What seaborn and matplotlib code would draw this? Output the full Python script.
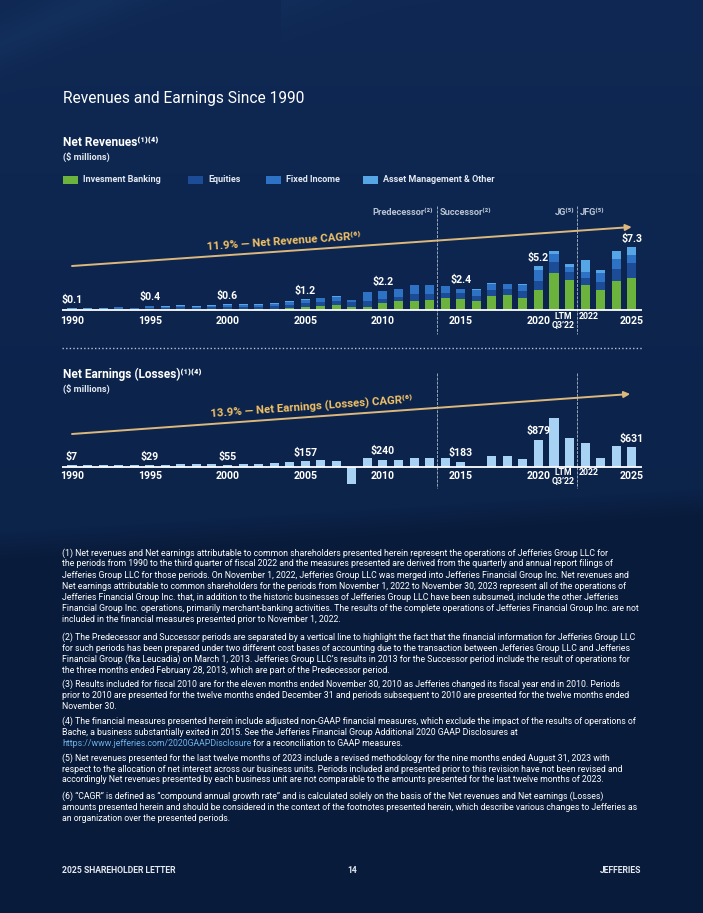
import numpy as np
import matplotlib
matplotlib.use("Agg")
import matplotlib.pyplot as plt
from matplotlib.patches import Rectangle
from matplotlib.lines import Line2D
import seaborn as sns

# ---------------- data ----------------
categories = [str(y) for y in range(1990, 2022)] + ["LTM Q3'22", "2022", "2023", "2024", "2025"]

# Net revenues by business ($ billions)
inv_banking = [0.00, 0.00, 0.00, 0.02, 0.02, 0.08, 0.05, 0.08, 0.05, 0.06, 0.10, 0.08,
               0.08, 0.10, 0.20, 0.40, 0.47, 0.59, 0.40, 0.40, 0.85, 1.06, 1.06, 1.18,
               1.37, 1.30, 1.06, 1.70, 1.76, 1.45, 2.35, 4.30, 3.53, 2.94, 2.35, 3.40, 3.80]
equities = [0.07, 0.08, 0.07, 0.13, 0.09, 0.18, 0.18, 0.22, 0.20, 0.24, 0.28, 0.30,
            0.30, 0.35, 0.40, 0.40, 0.45, 0.50, 0.50, 0.60, 0.50, 0.50, 0.78, 0.67,
            0.63, 0.67, 0.63, 0.67, 0.70, 0.78, 1.06, 1.30, 0.90, 0.86, 0.90, 1.40, 1.70]
fixed_income = [0.09, 0.09, 0.08, 0.15, 0.09, 0.16, 0.16, 0.20, 0.15, 0.20, 0.22, 0.25,
                0.25, 0.30, 0.38, 0.38, 0.45, 0.45, 0.22, 1.10, 0.86, 0.86, 1.10, 1.10,
                0.78, 0.47, 0.67, 0.67, 0.55, 0.70, 1.30, 0.94, 0.67, 0.70, 1.10, 1.25, 1.00]
asset_mgmt = [0.06, 0.06, 0.05, 0.07, 0.05, 0.08, 0.08, 0.10, 0.07, 0.10, 0.07, 0.07,
              0.05, 0.05, 0.10, 0.10, 0.10, 0.10, 0.10, 0.05, 0.05, 0.05, 0.05, 0.03,
              0.08, 0.08, 0.08, 0.10, 0.10, 0.15, 0.47, 0.40, 0.27, 1.37, 0.30, 0.86, 0.86]

# Net earnings (losses) ($ millions, bar heights)
net_earnings = [65, 65, 65, 65, 65, 65, 65, 95, 95, 95, 75, 95,
                95, 125, 160, 200, 230, 200, -530, 300, 240, 230, 300, 300,
                300, 183, 15, 355, 355, 260, 879, 1560, 940, 781, 300, 669, 631]

label_idx = [0, 5, 10, 15, 20, 25, 30, 36]
rev_labels = ["$0.1", "$0.4", "$0.6", "$1.2", "$2.2", "$2.4", "$5.2", "$7.3"]
earn_labels = ["$7", "$29", "$55", "$157", "$240", "$183", "$879", "$631"]
year_ticks = ["1990", "1995", "2000", "2005", "2010", "2015", "2020", "2025"]

legend_names = ["Invesment Banking", "Equities", "Fixed Income", "Asset Management & Other"]

footnotes = [
    ["(1) Net revenues and Net earnings attributable to common shareholders presented herein represent the operations of Jefferies Group LLC for",
     "the periods from 1990 to the third quarter of fiscal 2022 and the measures presented are derived from the quarterly and annual report filings of",
     "Jefferies Group LLC for those periods. On November 1, 2022, Jefferies Group LLC was merged into Jefferies Financial Group Inc. Net revenues and",
     "Net earnings attributable to common shareholders for the periods from November 1, 2022 to November 30, 2023 represent all of the operations of",
     "Jefferies Financial Group Inc. that, in addition to the historic businesses of Jefferies Group LLC have been subsumed, include the other Jefferies",
     "Financial Group Inc. operations, primarily merchant-banking activities. The results of the complete operations of Jefferies Financial Group Inc. are not",
     "included in the financial measures presented prior to November 1, 2022."],
    ["(2) The Predecessor and Successor periods are separated by a vertical line to highlight the fact that the financial information for Jefferies Group LLC",
     "for such periods has been prepared under two different cost bases of accounting due to the transaction between Jefferies Group LLC and Jefferies",
     "Financial Group (fka Leucadia) on March 1, 2013. Jefferies Group LLC\u2019s results in 2013 for the Successor period include the result of operations for",
     "the three months ended February 28, 2013, which are part of the Predecessor period."],
    ["(3) Results included for fiscal 2010 are for the eleven months ended November 30, 2010 as Jefferies changed its fiscal year end in 2010. Periods",
     "prior to 2010 are presented for the twelve months ended December 31 and periods subsequent to 2010 are presented for the twelve months ended",
     "November 30."],
    ["(4) The financial measures presented herein include adjusted non-GAAP financial measures, which exclude the impact of the results of operations of",
     "Bache, a business substantially exited in 2015. See the Jefferies Financial Group Additional 2020 GAAP Disclosures at",
     None],
    ["(5) Net revenues presented for the last twelve months of 2023 include a revised methodology for the nine months ended August 31, 2023 with",
     "respect to the allocation of net interest across our business units. Periods included and presented prior to this revision have not been revised and",
     "accordingly Net revenues presented by each business unit are not comparable to the amounts presented for the last twelve months of 2023."],
    ["(6) \u201cCAGR\u201d is defined as \u201ccompound annual growth rate\u201d and is calculated solely on the basis of the Net revenues and Net earnings (Losses)",
     "amounts presented herein and should be considered in the context of the footnotes presented herein, which describe various changes to Jefferies as",
     "an organization over the presented periods."],
]
link_text = "https://www.jefferies.com/2020GAAPDisclosure"
link_rest = " for a reconciliation to GAAP measures."

# ---------------- style ----------------
sns.set_theme(style="white")
FAM = ["Roboto", "DejaVu Sans"]
FN_FAM = ["Liberation Sans Narrow", "Roboto", "DejaVu Sans"]
plt.rcParams["font.family"] = FAM

C_IB = "#6cb33e"
C_EQ = "#1d4c97"
C_FI = "#2e72c6"
C_AM = "#56a6e6"
C_EARN = "#a8d2f4"
GOLD = "#dcb87c"
GOLD_TXT = "#f2c266"
WHITE = "#ffffff"
SOFT = "#e3e8f0"
GREYLBL = "#b9c3d3"
VLINE = "#98a6bb"

W, H = 703, 913
fig = plt.figure(figsize=(W / 100, H / 100), dpi=100)


def fx(px):
    return px / W


def fy(py):
    return 1 - py / H


# ---------------- background ----------------
bg = fig.add_axes([0, 0, 1, 1], zorder=-10)
yy, xx = np.mgrid[0:H, 0:W].astype(float)
c_top = np.array([15, 41, 84], float)
c_mid = np.array([12, 35, 74], float)
c_bot = np.array([9, 27, 58], float)
t = np.clip(yy / 520.0, 0, 1)[..., None]
img = c_top * (1 - t) + c_mid * t
boundary = 548 - 45 * xx / W
s = np.clip((yy - boundary) / 30 + 0.5, 0, 1)[..., None]
img = img * (1 - s) + c_bot * s
d = xx * 0.45 + yy
glow = 7 * np.exp(-((d - 45) / 25) ** 2) + 5 * np.exp(-((d - 120) / 35) ** 2) * (xx > 280)
img = img + glow[..., None] * np.array([0.55, 0.8, 1.0])
bg.imshow(np.clip(img, 0, 255).astype(np.uint8), aspect="auto", extent=[0, 1, 0, 1])
bg.set_xlim(0, 1)
bg.set_ylim(0, 1)
bg.axis("off")

# ---------------- headings ----------------
fig.text(fx(63), fy(99), "Revenues and Earnings Since 1990", fontsize=11.2, color=WHITE,
         va="center", ha="left")
fig.text(fx(63), fy(142), "Net Revenues\u207d\u00b9\u207e\u207d\u2074\u207e", fontsize=8.6, color=WHITE,
         weight="bold", va="center")
fig.text(fx(63), fy(157), "($ millions)", fontsize=6.6, color=SOFT, weight="bold", va="center")
fig.text(fx(63), fy(374), "Net Earnings (Losses)\u207d\u00b9\u207e\u207d\u2074\u207e", fontsize=8.6,
         color=WHITE, weight="bold", va="center")
fig.text(fx(63), fy(389), "($ millions)", fontsize=6.6, color=SOFT, weight="bold", va="center")

# legend
leg_x = [63, 188, 266, 363]
leg_c = [C_IB, C_EQ, C_FI, C_AM]
for lx, lc, name in zip(leg_x, leg_c, legend_names):
    fig.add_artist(Rectangle((fx(lx), fy(184)), 15 / W, 8 / H, transform=fig.transFigure,
                             facecolor=lc, edgecolor="none"))
    fig.text(fx(lx + 20), fy(180), name, fontsize=6.5, color=SOFT, weight="bold", va="center")

# ---------------- revenue chart ----------------
R_SCALE = 8.5      # px per $B
R_BASE = 310.0
ax1 = fig.add_axes([fx(62), fy(340), fx(642) - fx(62), fy(200) - fy(340)])
ax1.set_facecolor("none")

ib = np.array(inv_banking)
eq = np.array(equities)
fi = np.array(fixed_income)
am = np.array(asset_mgmt)
totals = ib + eq + fi + am
layers = [(totals, C_AM), (ib + eq + fi, C_FI), (ib + eq, C_EQ), (ib, C_IB)]
for vals, col in layers:
    sns.barplot(x=categories, y=vals, order=categories, color=col, saturation=1,
                width=0.58, linewidth=0, errorbar=None, ax=ax1)
ax1.set_xlim(-0.643, 36.66)
ax1.set_ylim(-(340 - R_BASE) / R_SCALE, (R_BASE - 200) / R_SCALE)
ax1.axis("off")
ax1.axhline(0, color=WHITE, lw=1.3, zorder=5)


def y1(py):
    return (R_BASE - py) / R_SCALE


# ---------------- earnings chart ----------------
E_SCALE = 0.0315   # px per $M
E_BASE = 467.3
ax2 = fig.add_axes([fx(62), fy(495), fx(642) - fx(62), fy(370) - fy(495)])
ax2.set_facecolor("none")
earn = np.array(net_earnings, float)
sns.barplot(x=categories, y=earn, order=categories, color=C_EARN, saturation=1,
            width=0.58, linewidth=0, errorbar=None, ax=ax2)
ax2.set_xlim(-0.643, 36.66)
ax2.set_ylim(-(495 - E_BASE) / E_SCALE, (E_BASE - 370) / E_SCALE)
ax2.axis("off")
ax2.axhline(0, color=WHITE, lw=1.3, zorder=5)


def y2(py):
    return (E_BASE - py) / E_SCALE


n = len(categories)
ltm_i = categories.index("LTM Q3'22")
y22_i = n - 4

for ax, yconv, ytick, ytop, ybot, vals, labels in [
        (ax1, y1, 320.5, 206, 334, totals, rev_labels),
        (ax2, y2, 476, 373, 488, earn, earn_labels)]:
    for i, lbl in zip(label_idx, year_ticks):
        ax.text(i, yconv(ytick), lbl, ha="center", va="center", fontsize=7.6,
                weight="bold", color=WHITE, clip_on=False)
    ax.text(ltm_i - 0.4, yconv(ytick - 3.8), "LTM", ha="center", va="center", fontsize=6.3,
            weight="bold", color=WHITE, clip_on=False)
    ax.text(ltm_i - 0.4, yconv(ytick + 5), "Q3\u201922", ha="center", va="center", fontsize=6.3,
            weight="bold", color=WHITE, clip_on=False)
    ax.text(y22_i + 0.25, yconv(ytick - 3.8), "2022", ha="center", va="center", fontsize=6.3,
            weight="bold", color=WHITE, clip_on=False)
    for i, lbl in zip(label_idx, labels):
        ax.annotate(lbl, (i, vals[i]), xytext=(0, 6.1), textcoords="offset points",
                    ha="center", va="center", fontsize=7.6, weight="bold", color=WHITE,
                    annotation_clip=False)
    for xv in [23.5, 32.5]:
        ax.plot([xv, xv], [yconv(ytop), yconv(ybot)], color=VLINE, lw=0.7,
                ls=(0, (3, 1.2)), clip_on=False, zorder=1)

# CAGR arrows
ax1.annotate("", xy=(36.0, y1(227)), xytext=(0, y1(266)),
             arrowprops=dict(arrowstyle="-|>", color=GOLD, lw=1.4, mutation_scale=9,
                             shrinkA=0, shrinkB=0), annotation_clip=False)
ax2.annotate("", xy=(35.9, y2(394)), xytext=(0, y2(434)),
             arrowprops=dict(arrowstyle="-|>", color=GOLD, lw=1.4, mutation_scale=9,
                             shrinkA=0, shrinkB=0), annotation_clip=False)
fig.text(fx(284), fy(242), "11.9% \u2014 Net Revenue CAGR\u207d\u2076\u207e", fontsize=8.2,
         weight="bold", color=GOLD_TXT, rotation=4.0, rotation_mode="anchor",
         ha="center", va="center")
fig.text(fx(311), fy(407), "13.9% \u2014 Net Earnings (Losses) CAGR\u207d\u2076\u207e", fontsize=8.2,
         weight="bold", color=GOLD_TXT, rotation=4.1, rotation_mode="anchor",
         ha="center", va="center")

# period labels
for px, txt, ha in [(433, "Predecessor\u207d\u00b2\u207e", "right"), (440, "Successor\u207d\u00b2\u207e", "left"),
                    (574, "JG\u207d\u2075\u207e", "right"), (580, "JFG\u207d\u2075\u207e", "left")]:
    fig.text(fx(px), fy(212.5), txt, fontsize=6.7, weight="bold", color=GREYLBL,
             ha=ha, va="center")

# dotted separator
fig.add_artist(Line2D([fx(62), fx(642)], [fy(348), fy(348)], transform=fig.transFigure,
                      color="#b8c2d2", lw=1.0, ls=(0, (1, 1.6))))

# ---------------- footnotes ----------------
renderer = fig.canvas.get_renderer()
widest = footnotes[0][5]
probe = fig.text(fx(62), fy(553), widest, fontsize=7, family=FN_FAM)
w0 = probe.get_window_extent(renderer).width
fn_fs = 7 * 578.0 / w0
probe.remove()

para_start = [553, 637, 684, 721, 758, 796]
step = 11.0
for start, para in zip(para_start, footnotes):
    for k, line in enumerate(para):
        ypx = start + k * step
        if line is None:
            lt = fig.text(fx(62), fy(ypx), link_text, fontsize=fn_fs, family=FN_FAM,
                          color="#6fb3ea", va="center", ha="left")
            lw_ = lt.get_window_extent(renderer).width
            fig.text(fx(62 + lw_), fy(ypx), link_rest, fontsize=fn_fs, family=FN_FAM,
                     color=WHITE, va="center", ha="left")
        else:
            fig.text(fx(62), fy(ypx), line, fontsize=fn_fs, family=FN_FAM, color=WHITE,
                     va="center", ha="left")

# ---------------- footer ----------------
fig.text(fx(62), fy(870), "2025 SHAREHOLDER LETTER", fontsize=6.2, weight="bold",
         color=SOFT, va="center", ha="left")
fig.text(fx(352), fy(870), "14", fontsize=6.2, weight="bold", color=SOFT,
         va="center", ha="center")
fig.text(fx(641), fy(870), "JEFFERIES", fontsize=6.2, weight="bold", color=SOFT,
         va="center", ha="right")

fig.savefig("out.png", dpi=100)
